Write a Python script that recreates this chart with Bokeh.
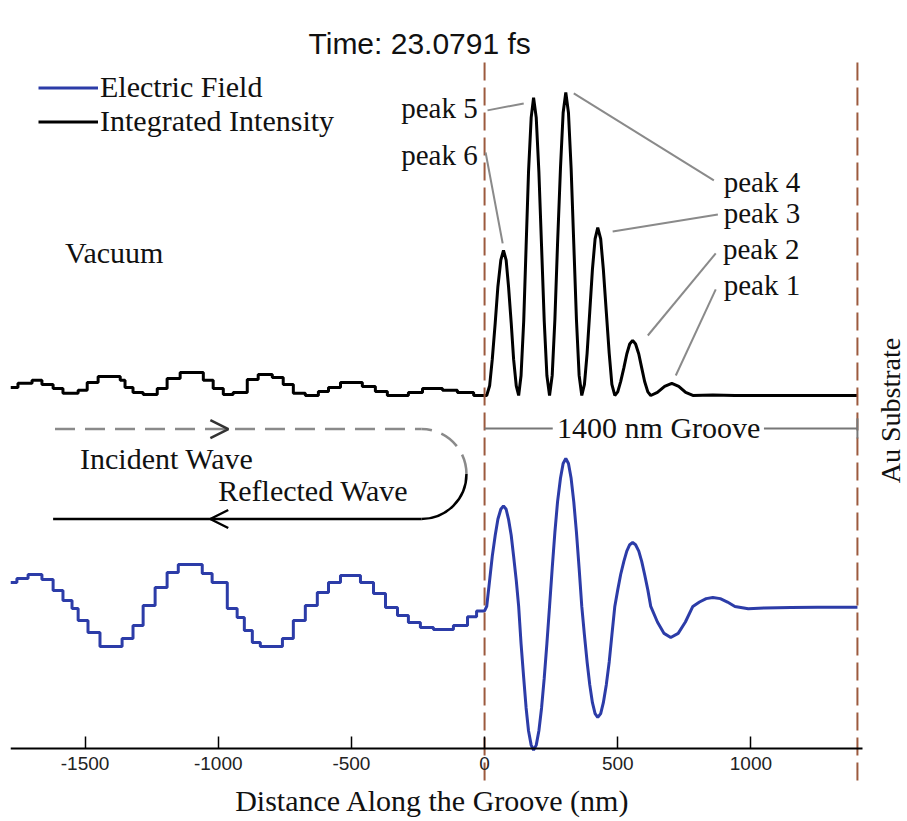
from math import pi
from bokeh.plotting import figure
from bokeh.models import (Range1d, FixedTicker, Label, Legend, LegendItem,
                          Arrow, OpenHead)
from bokeh.embed import file_html
from bokeh.resources import INLINE

# ---------------- data ----------------
# Electric field, vacuum side (x < 0): stair-step cells (nm) and levels (a.u.)
field_left_edges = [-1780, -1756, -1714, -1662, -1620, -1583, -1549, -1526, -1489, -1444,
                    -1361, -1320, -1282, -1237, -1192, -1150, -1060, -1023, -966, -929,
                    -902, -872, -842, -759, -718, -673, -628, -586, -541, -466,
                    -417, -372, -327, -286, -241, -192, -117, -64, -30, 0]
field_left_levels = [0.162, 0.189, 0.216, 0.182, 0.108, 0.041, -0.014, -0.095, -0.176,
                     -0.270, -0.216, -0.128, 0.007, 0.128, 0.230, 0.284, 0.223, 0.162,
                     -0.014, -0.074, -0.162, -0.243, -0.270, -0.216, -0.095, 0.007, 0.095,
                     0.162, 0.209, 0.162, 0.088, -0.007, -0.061, -0.108, -0.142, -0.155,
                     -0.128, -0.07, -0.03]
# Electric field inside the groove (x >= 0)
field_x = [0, 8, 19, 29, 40, 50, 61, 71, 81, 90, 100, 109, 119, 128,
           137, 147, 156, 165, 175, 184, 194, 204, 214, 224, 234, 244,
           254, 264, 274, 285, 295, 305, 315, 325, 335, 345, 355, 365,
           375, 385, 395, 405, 415, 425, 436, 446, 457, 468, 478, 489,
           500, 511, 523, 534, 545, 556, 567, 579, 590, 601, 613, 624,
           649, 674, 699, 727, 754, 782, 807, 832, 857, 885, 912, 940,
           990, 1050, 1150, 1250, 1400]
field_y = [-0.03, 0, 0.176, 0.34, 0.481, 0.589, 0.657, 0.68, 0.657, 0.589, 0.481, 0.34, 0.176, 0,
           -0.251, -0.485, -0.686, -0.84, -0.937, -0.97, -0.937, -0.84, -0.686, -0.485, -0.251, 0,
           0.259, 0.5, 0.707, 0.866, 0.966, 1.0, 0.966, 0.866, 0.707, 0.5, 0.259, 0,
           -0.194, -0.375, -0.53, -0.65, -0.724, -0.75, -0.724, -0.65, -0.53, -0.375, -0.194, 0,
           0.112, 0.216, 0.305, 0.374, 0.417, 0.432, 0.417, 0.374, 0.305, 0.216, 0.112, 0,
           -0.105, -0.182, -0.21, -0.182, -0.105, 0, 0.03, 0.053, 0.061, 0.053, 0.03, 0,
           -0.015, -0.01, -0.007, -0.005, -0.005]

# Integrated intensity, vacuum side (x < 0)
intensity_left_edges = [-1780, -1752, -1699, -1662, -1620, -1583, -1526, -1492, -1451, -1368,
                        -1350, -1320, -1282, -1229, -1192, -1143, -1056, -1019, -981, -944,
                        -891, -850, -797, -756, -718, -673, -624, -586, -541, -459,
                        -410, -365, -286, -233, -158, -102, -41, 0]
intensity_left_levels = [0.026, 0.040, 0.050, 0.036, 0.023, 0.007, 0.017, 0.043, 0.063, 0.050,
                         0.026, 0.010, 0.003, 0.023, 0.056, 0.076, 0.050, 0.023, 0.003, 0.010,
                         0.053, 0.069, 0.059, 0.036, 0.007, 0.0, 0.013, 0.026, 0.043, 0.030,
                         0.013, 0.0, 0.010, 0.023, 0.017, 0.010, 0.0]
# Integrated intensity inside the groove (x >= 0)
intensity_x = [0, 8, 19, 29, 40, 50, 61, 71, 81, 90, 100, 109, 119, 128,
               137, 147, 156, 165, 175, 184, 194, 204, 214, 224, 234, 244,
               254, 264, 274, 285, 295, 305, 315, 325, 335, 345, 355, 365,
               375, 385, 395, 405, 415, 425, 436, 446, 457, 468, 478, 489,
               500, 511, 523, 534, 545, 556, 567, 579, 590, 601, 613, 624,
               649, 676, 703, 729, 755, 782, 857, 940, 1400]
intensity_y = [0, 0, 0.032, 0.12, 0.24, 0.359, 0.447, 0.479, 0.447, 0.359, 0.24, 0.12, 0.032, 0,
               0.066, 0.246, 0.492, 0.737, 0.917, 0.983, 0.917, 0.737, 0.492, 0.246, 0.066, 0,
               0.067, 0.25, 0.5, 0.75, 0.933, 1.0, 0.933, 0.75, 0.5, 0.25, 0.067, 0,
               0.037, 0.139, 0.277, 0.416, 0.517, 0.554, 0.517, 0.416, 0.277, 0.139, 0.037, 0,
               0.012, 0.046, 0.091, 0.137, 0.17, 0.182, 0.17, 0.137, 0.091, 0.046, 0.012, 0,
               0.01, 0.03, 0.04, 0.03, 0.01, 0, 0.002, 0, 0]

tick_values = [-1500, -1000, -500, 0, 500, 1000]
tick_labels = ["-1500", "-1000", "-500", "0", "500", "1000"]
groove_bounds = [0, 1400]

# peak annotations (intensity units)
peak_names = ["peak 1", "peak 2", "peak 3", "peak 4", "peak 5", "peak 6"]
peak_text_x = [898, 895, 898, 898, -26, -26]
peak_text_y = [0.366, 0.485, 0.601, 0.706, 0.950, 0.795]
peak_text_align = ["left", "left", "left", "left", "right", "right"]
leader_x0 = [718, 613, 481, 335, 11, 4]
leader_y0 = [0.066, 0.198, 0.541, 0.997, 0.941, 0.802]
leader_x1 = [868, 868, 876, 861, 147, 68]
leader_y1 = [0.350, 0.469, 0.597, 0.710, 0.964, 0.502]

# ---------------- styles ----------------
SERIF = "Liberation Serif"
SANS = "Liberation Sans"
BLUE = "#2c3ca8"
BROWN = "#9c5a3e"
GRAY = "#8a8a8a"
TXT = "#111111"


def staircase(edges, levels):
    xs, ys = [], []
    for i, v in enumerate(levels):
        xs += [edges[i], edges[i + 1]]
        ys += [v, v]
    return xs, ys


p = figure(width=907, height=821, output_backend="svg", toolbar_location=None,
           x_range=Range1d(-1780, 1588), y_range=Range1d(-1.453, 3.689),
           y_axis_location=None, min_border_left=10, min_border_right=0,
           min_border_top=60, min_border_bottom=0)
p.extra_y_ranges = {"intensity": Range1d(-1.406, 1.1056)}
p.outline_line_color = None
p.xgrid.visible = False
p.ygrid.visible = False
p.background_fill_color = "white"

p.title.text = "Time: 23.0791 fs"
p.title.align = "left"
p.title.offset = 298
p.title.text_font = SANS
p.title.text_font_size = "30px"
p.title.text_font_style = "normal"
p.title.text_color = TXT
p.title.standoff = 2

ax = p.xaxis[0]
ax.fixed_location = -0.9595
ax.bounds = (-1780, 1419)
ax.ticker = FixedTicker(ticks=tick_values)
ax.major_label_overrides = {v: s for v, s in zip(tick_values, tick_labels)}
ax.major_label_text_font = SANS
ax.major_label_text_font_size = "19px"
ax.major_label_text_color = "#222222"
ax.major_tick_in = 12
ax.major_tick_out = 0
ax.minor_tick_line_color = None
ax.axis_line_width = 2
ax.major_tick_line_width = 1.5
ax.major_label_standoff = 9

# curves
fxs, fys = staircase(field_left_edges, field_left_levels)
blue = p.line(fxs + field_x, fys + field_y, line_color=BLUE, line_width=3)
ixs, iys = staircase(intensity_left_edges, intensity_left_levels)
black = p.line(ixs + intensity_x, iys + intensity_y, line_color="black", line_width=3,
               y_range_name="intensity")

# groove boundaries (dashed), reaching a little below the axis
p.segment(groove_bounds, [-1.176] * 2, groove_bounds, [3.689] * 2, line_color=BROWN,
          line_width=2, line_dash="18 7")

# peak leaders and labels
p.segment(leader_x0, leader_y0, leader_x1, leader_y1, line_color=GRAY, line_width=2,
          y_range_name="intensity")
for name, tx, ty, al in zip(peak_names, peak_text_x, peak_text_y, peak_text_align):
    p.add_layout(Label(x=tx, y=ty, text=name, y_range_name="intensity", text_align=al,
                       text_baseline="middle", text_font=SERIF, text_font_size="29px",
                       text_color=TXT))


def label(x, y, t, align="left", baseline="middle", size="30px", **kw):
    p.add_layout(Label(x=x, y=y, text=t, text_align=align, text_baseline=baseline,
                       text_font=SERIF, text_font_size=size, text_color=TXT, **kw))


label(-1575, 2.392, "Vacuum")
label(-1519, 1.0, "Incident Wave")
label(-1000, 0.784, "Reflected Wave")
label(654, 1.209, "1400 nm Groove", align="center")
label(-195, -1.311, "Distance Along the Groove (nm)", align="center")
label(1524, 1.324, "Au Substrate", align="center", size="28px", angle=pi / 2)

# 1400 nm groove bracket
p.segment([0, 1049, 1400], [1.203, 1.203, 1.135], [256, 1400, 1400], [1.203, 1.203, 1.271],
          line_color="#777777", line_width=2)

# incident / reflected wave path
p.segment([-1613], [1.199], [-237], [1.199], line_color=GRAY, line_width=2.5, line_dash="20 10")
p.arc(x=[-237], y=[0.895], radius=169, start_angle=0, end_angle=pi / 2,
      line_color=GRAY, line_width=2.5, line_dash="20 10")
p.segment([-1620], [0.591], [-237], [0.591], line_color="black", line_width=2.5)
p.arc(x=[-237], y=[0.895], radius=169, start_angle=-pi / 2, end_angle=0,
      line_color="black", line_width=2.5)
p.add_layout(Arrow(x_start=-1100, y_start=1.199, x_end=-962, y_end=1.199, line_alpha=0,
                   end=OpenHead(size=18, line_width=2.5, line_color="#333333")))
p.add_layout(Arrow(x_start=-900, y_start=0.591, x_end=-1030, y_end=0.591, line_alpha=0,
                   end=OpenHead(size=18, line_width=2.5, line_color="black")))

# legend
legend = Legend(items=[LegendItem(label="Electric Field", renderers=[blue]),
                       LegendItem(label="Integrated Intensity", renderers=[black])],
                location=(28, 683), padding=0, margin=0, spacing=0,
                glyph_width=60, glyph_height=33, label_height=33, label_standoff=2,
                label_text_font=SERIF, label_text_font_size="30px",
                label_text_color=TXT,
                background_fill_alpha=0, border_line_alpha=0)
p.add_layout(legend)

open("out.html", "w").write(file_html(p, INLINE))
